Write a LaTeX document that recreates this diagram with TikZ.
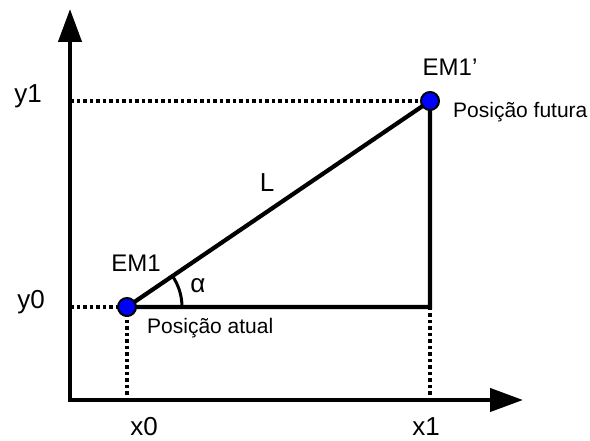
\documentclass[tikz,border=0pt]{standalone}
\usepackage{fontspec}
\setmainfont{Liberation Sans}
\usetikzlibrary{arrows.meta, positioning}
\tikzset{
    biglabel/.style={inner sep=0pt, font=\fontsize{24}{28}\selectfont},
    axislabel/.style={inner sep=0pt, font=\fontsize{26}{30}\selectfont},
    smalllabel/.style={inner sep=0pt, font=\fontsize{21}{25}\selectfont},
    guide/.style={line width=4pt, dash pattern=on 3.5pt off 3pt, black}
}

\begin{document}
\begin{tikzpicture}[
		x=1pt, y=1pt,
		% Eixos com ponta triangular
		axis-line/.style={
			line width=4.3pt,
			{Triangle[length=33pt,width=23pt]}-{Triangle[length=33pt,width=23pt]}
		},
		% Linhas do triangulo
		side-line/.style={
			line width=4.2pt,
			line join=miter
		},
		% Posicoes (pontos azuis)
		dot/.style={
			circle,
			fill=blue,
			draw=black,
			line width=2pt,
			minimum size=18pt,
			inner sep=0pt
		}
		]
		\useasboundingbox (0,0) rectangle (590,441);
		
		% Pontos de referencia
		\coordinate (origin) at (70,41);
		\coordinate (ytip) at (70,432);
		\coordinate (xtip) at (523,41);
		\coordinate (posNow) at (127,134);
		\coordinate (posNext) at (430,340);
		\coordinate (corner) at (posNext |- posNow);
		
		% Linhas pontilhadas
		\draw [guide] (origin |- posNext) -- (posNext);
		\draw [guide] (origin |- posNow) -- (posNow);
		\draw [guide] (posNow) -- (posNow |- origin);
		\draw [guide] (corner) -- (corner |- origin);
		
		% Eixos
		\draw [axis-line] (ytip) -- (origin) -- (xtip);
		
		% Triangulo
		\draw [side-line] (posNow) -- (posNext) -- (corner) -- cycle;
		\draw [line width=3pt] (posNow) ++(0:55pt) arc[start angle=0, end angle=34.2, radius=55pt];
		
		% Posicoes
		\node (em1) [dot] at (posNow) {};
		\node (em1p) [dot] at (posNext) {};
		
		% Rotulos
		\node (labelEM1) [biglabel, above=25pt of em1, xshift=9pt] {EM1};
		\node (labelEM1p) [biglabel, above=15pt of em1p, xshift=20pt] {EM1\symbol{39}};
		\node (labelNow) [smalllabel, right=10pt of em1, yshift=-21pt] {Posição atual};
		\node (labelNext) [smalllabel, right=13pt of em1p, yshift=-11pt] {Posição futura};
		\node (labelL) [axislabel] at (267,258) {L};
		\node (labelAlpha) [axislabel] at (198,155) {α};
		
		% Rotulos dos eixos
		\node (labelY1) [axislabel] at (28,345) {y1};
		\node (labelY0) [axislabel] at (31,139) {y0};
		\node (labelX0) [axislabel] at (144,14) {x0};
		\node (labelX1) [axislabel] at (426,14) {x1};
		
	\end{tikzpicture}
\end{document}
